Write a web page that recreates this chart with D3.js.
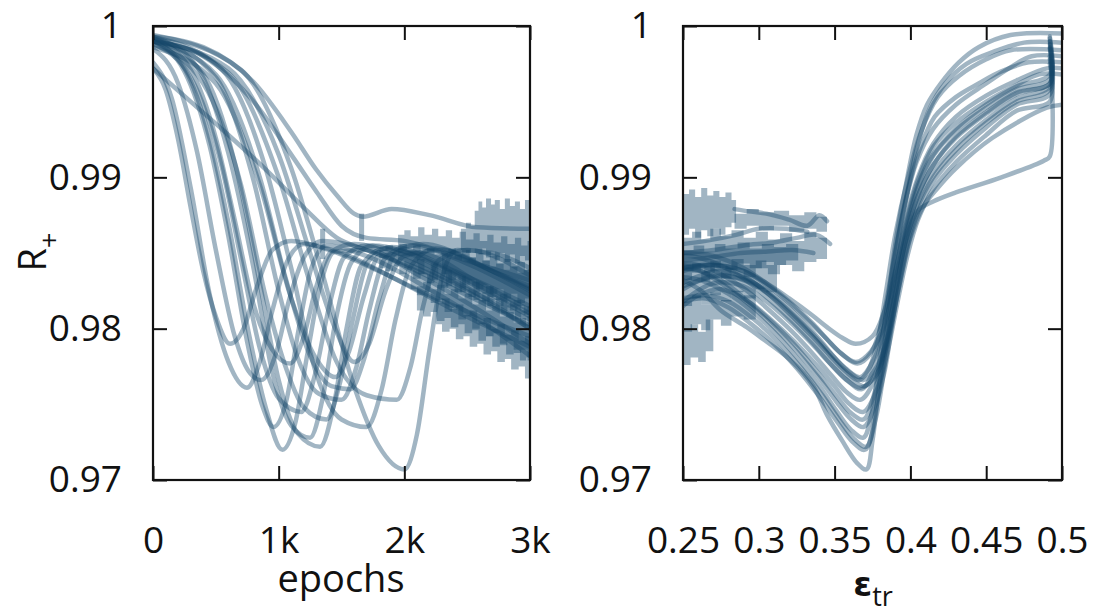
<!DOCTYPE html>
<html>
<head>
<meta charset="utf-8">
<script src="https://cdn.jsdelivr.net/npm/d3@7"></script>
<style>
body { margin: 0; background: #fff; }
text { font-family: "Open Sans", Lato, sans-serif; fill: #111; }
</style>
</head>
<body>
<svg id="chart" width="1095" height="610"></svg>
<script>
// ---- tick values / labels
var rTicks = [0.97, 0.98, 0.99, 1];
var rLabels = ['0.97', '0.98', '0.99', '1'];
var epochTicks = [0, 1000, 2000, 3000];
var epochLabels = ['0', '1k', '2k', '3k'];
var epsTicks = [0.25, 0.3, 0.35, 0.4, 0.45, 0.5];
var epsLabels = ['0.25', '0.3', '0.35', '0.4', '0.45', '0.5'];

// ---- left panel: R+ vs epochs, one run per array [epoch, R]
var epochRuns = [
  [[0,0.9972],[100,0.9958],[200,0.9925],[300,0.9880],[400,0.9838],[500,0.9808],[613,0.9790],[720,0.9800],[820,0.9826],[950,0.9852],[1100,0.9858],[1400,0.9852],[1800,0.9838],[2200,0.9822],[2600,0.9808],[3000,0.9795]],
  [[0,0.9976],[150,0.9952],[300,0.9893],[450,0.9823],[600,0.9778],[748,0.9761],[850,0.9778],[950,0.9812],[1060,0.9843],[1200,0.9856],[1500,0.9850],[1900,0.9834],[2400,0.9812],[3000,0.9788]],
  [[0,0.9985],[200,0.9962],[350,0.9917],[500,0.9852],[650,0.9795],[760,0.9772],[860,0.9766],[980,0.9784],[1080,0.9818],[1200,0.9847],[1350,0.9858],[1700,0.9852],[2100,0.9838],[2600,0.9818],[3000,0.9802]],
  [[0,0.9990],[250,0.9972],[450,0.9926],[600,0.9870],[750,0.9802],[900,0.9747],[1030,0.9720],[1130,0.9737],[1230,0.9784],[1330,0.9828],[1450,0.9851],[1700,0.9852],[2100,0.9836],[2600,0.9812],[3000,0.9790]],
  [[0,0.9992],[300,0.9971],[500,0.9926],[650,0.9872],[800,0.9816],[950,0.9786],[1090,0.9777],[1200,0.9795],[1300,0.9828],[1420,0.9851],[1600,0.9856],[2000,0.9846],[2500,0.9826],[3000,0.9806]],
  [[0,0.9988],[300,0.9966],[550,0.9906],[700,0.9846],[850,0.9787],[1000,0.9754],[1180,0.9745],[1290,0.9770],[1400,0.9814],[1520,0.9847],[1700,0.9855],[2100,0.9845],[2600,0.9822],[3000,0.9800]],
  [[0,0.9993],[350,0.9973],[600,0.9916],[800,0.9840],[950,0.9771],[1100,0.9736],[1250,0.9728],[1350,0.9754],[1450,0.9804],[1580,0.9844],[1750,0.9855],[2200,0.9845],[2600,0.9828],[3000,0.9810]],
  [[0,0.9990],[400,0.9968],[650,0.9910],[850,0.9830],[1000,0.9766],[1150,0.9731],[1330,0.9722],[1440,0.9750],[1540,0.9800],[1660,0.9842],[1850,0.9853],[2300,0.9840],[2700,0.9822],[3000,0.9808]],
  [[0,0.9988],[400,0.9962],[700,0.9895],[900,0.9820],[1050,0.9776],[1200,0.9748],[1380,0.9740],[1490,0.9765],[1590,0.9806],[1710,0.9844],[1900,0.9854],[2400,0.9838],[3000,0.9815]],
  [[0,0.9992],[500,0.9966],[800,0.9898],[1000,0.9825],[1150,0.9781],[1320,0.9757],[1500,0.9753],[1620,0.9775],[1720,0.9812],[1850,0.9847],[2050,0.9855],[2500,0.9843],[3000,0.9822]],
  [[0,0.9990],[500,0.9968],[850,0.9900],[1050,0.9835],[1250,0.9782],[1420,0.9762],[1570,0.9760],[1680,0.9780],[1800,0.9820],[1930,0.9850],[2150,0.9856],[2600,0.9842],[3000,0.9826]],
  [[0,0.9993],[550,0.9971],[900,0.9905],[1100,0.9840],[1300,0.9770],[1500,0.9740],[1700,0.9735],[1820,0.9760],[1930,0.9806],[2050,0.9841],[2250,0.9853],[2700,0.9838],[3000,0.9828]],
  [[0,0.9991],[600,0.9969],[1000,0.9900],[1250,0.9830],[1450,0.9780],[1700,0.9756],[1940,0.9753],[2050,0.9775],[2150,0.9815],[2270,0.9845],[2500,0.9852],[3000,0.9835]],
  [[0,0.9994],[700,0.9971],[1100,0.9906],[1350,0.9836],[1600,0.9762],[1800,0.9722],[2000,0.9707],[2100,0.9730],[2200,0.9786],[2300,0.9834],[2420,0.9852],[2700,0.9850],[3000,0.9840]],
  [[0,0.9990],[600,0.9972],[1000,0.9915],[1250,0.9850],[1450,0.9800],[1600,0.9778],[1720,0.9790],[1850,0.9825],[2000,0.9848],[2300,0.9852],[2700,0.9838],[3000,0.9825]],
  [[0,0.9986],[500,0.9962],[850,0.9895],[1100,0.9820],[1300,0.9780],[1450,0.9768],[1560,0.9785],[1680,0.9822],[1800,0.9848],[2100,0.9850],[2600,0.9830],[3000,0.9812]],
  [[0,0.9990],[250,0.9970],[450,0.9921],[600,0.9861],[750,0.9791],[870,0.9749],[960,0.9735],[1060,0.9752],[1160,0.9800],[1260,0.9840],[1380,0.9855],[1700,0.9848],[2200,0.9826],[2700,0.9800],[3000,0.9782]],
  [[0,0.9972],[300,0.9950],[600,0.9928],[900,0.9905],[1200,0.9880],[1464,0.9860],[1700,0.9852],[2100,0.9840],[2600,0.9820],[3000,0.9800]],
  [[0,0.9990],[400,0.9980],[800,0.9950],[1100,0.9915],[1305,0.9890],[1500,0.9868],[1700,0.9860],[2000,0.9858],[2500,0.9845],[3000,0.9832]],
  [[0,0.9993],[400,0.9986],[800,0.9963],[1100,0.9930],[1300,0.9905],[1464,0.9888],[1600,0.9876],[1670,0.9874],[1900,0.9879],[2200,0.9875],[2580,0.9867],[3000,0.9866]]
];

// noisy late-training envelopes [epoch, low, high]
var epochNoise = [
  [[2450,0.9852,0.9866],[2490,0.9850,0.9870],[2530,0.9853,0.9868],[2560,0.9850,0.9878],[2590,0.9849,0.9884],[2620,0.9853,0.9880],[2650,0.9847,0.9886],[2690,0.9851,0.9882],[2720,0.9845,0.9885],[2760,0.9850,0.9879],[2800,0.9844,0.9886],[2840,0.9849,0.9881],[2880,0.9843,0.9884],[2920,0.9848,0.9879],[2960,0.9845,0.9885],[3000,0.9845,0.9885]],
  [[1950,0.9845,0.9862],[2000,0.9840,0.9865],[2050,0.9843,0.9861],[2110,0.9836,0.9867],[2160,0.9840,0.9862],[2220,0.9832,0.9866],[2270,0.9836,0.9861],[2330,0.9828,0.9865],[2380,0.9832,0.9860],[2440,0.9824,0.9864],[2490,0.9828,0.9859],[2550,0.9819,0.9863],[2600,0.9823,0.9858],[2660,0.9815,0.9862],[2710,0.9819,0.9857],[2770,0.9810,0.9861],[2820,0.9814,0.9856],[2880,0.9806,0.9860],[2930,0.9810,0.9855],[2980,0.9802,0.9858],[3000,0.9802,0.9858]],
  [[1800,0.9840,0.9852],[1850,0.9838,0.9855],[1910,0.9841,0.9853],[1960,0.9836,0.9856],[2020,0.9839,0.9852],[2070,0.9833,0.9855],[2130,0.9836,0.9851],[2180,0.9830,0.9853],[2240,0.9833,0.9849],[2290,0.9827,0.9851],[2350,0.9830,0.9847],[2400,0.9824,0.9849],[2460,0.9827,0.9845],[2510,0.9821,0.9847],[2570,0.9824,0.9843],[2620,0.9818,0.9845],[2680,0.9821,0.9841],[2730,0.9815,0.9843],[2790,0.9818,0.9839],[2840,0.9812,0.9841],[2900,0.9815,0.9837],[2950,0.9809,0.9839],[3000,0.9809,0.9839]],
  [[2300,0.9836,0.9850],[2350,0.9832,0.9853],[2410,0.9835,0.9849],[2460,0.9829,0.9852],[2520,0.9832,0.9847],[2570,0.9826,0.9850],[2630,0.9829,0.9845],[2680,0.9823,0.9848],[2740,0.9826,0.9843],[2790,0.9820,0.9846],[2850,0.9823,0.9841],[2900,0.9817,0.9844],[2960,0.9820,0.9839],[3000,0.9820,0.9839]],
  [[2050,0.9826,0.9843],[2100,0.9822,0.9846],[2160,0.9824,0.9840],[2210,0.9817,0.9843],[2270,0.9819,0.9836],[2320,0.9811,0.9839],[2380,0.9814,0.9832],[2430,0.9806,0.9835],[2490,0.9808,0.9828],[2540,0.9800,0.9831],[2600,0.9803,0.9824],[2650,0.9795,0.9828],[2710,0.9797,0.9820],[2760,0.9789,0.9823],[2820,0.9792,0.9816],[2870,0.9784,0.9819],[2930,0.9786,0.9812],[2980,0.9779,0.9815],[3000,0.9779,0.9815]],
  [[2100,0.9812,0.9828],[2150,0.9808,0.9831],[2210,0.9811,0.9826],[2260,0.9805,0.9829],[2320,0.9807,0.9823],[2370,0.9801,0.9826],[2430,0.9803,0.9820],[2480,0.9797,0.9823],[2540,0.9799,0.9816],[2590,0.9792,0.9819],[2650,0.9795,0.9812],[2700,0.9788,0.9815],[2760,0.9790,0.9808],[2810,0.9783,0.9811],[2870,0.9786,0.9804],[2920,0.9779,0.9807],[2970,0.9781,0.9801],[3000,0.9781,0.9801]],
  [[2250,0.9803,0.9817],[2300,0.9798,0.9820],[2360,0.9800,0.9813],[2410,0.9793,0.9816],[2470,0.9795,0.9809],[2520,0.9788,0.9812],[2580,0.9790,0.9804],[2630,0.9783,0.9807],[2690,0.9785,0.9800],[2740,0.9778,0.9803],[2800,0.9780,0.9796],[2850,0.9773,0.9799],[2910,0.9775,0.9792],[2960,0.9767,0.9795],[3000,0.9767,0.9795]],
  [[1640,0.9858,0.9876],[1680,0.9858,0.9876]],
  [[1330,0.9846,0.9866],[1370,0.9846,0.9866]]
];

// ---- right panel: R+ vs eps_tr, one run per array [eps, R] in training order
var epsRuns = [
  [[0.492,0.9990],[0.492,0.9968],[0.470,0.9960],[0.450,0.9948],[0.430,0.9932],[0.415,0.9915],[0.405,0.9895],[0.397,0.9868],[0.390,0.9838],[0.383,0.9812],[0.375,0.9795],[0.364,0.9790],[0.355,0.9794],[0.345,0.9801],[0.335,0.9809],[0.320,0.9820],[0.305,0.9830],[0.290,0.9838],[0.270,0.9842],[0.250,0.9840]],
  [[0.492,0.9986],[0.492,0.9955],[0.470,0.9948],[0.450,0.9933],[0.430,0.9915],[0.415,0.9897],[0.405,0.9877],[0.398,0.9854],[0.392,0.9825],[0.386,0.9795],[0.378,0.9770],[0.367,0.9761],[0.357,0.9767],[0.347,0.9777],[0.335,0.9790],[0.320,0.9805],[0.305,0.9818],[0.290,0.9828],[0.270,0.9830],[0.250,0.9818]],
  [[0.500,0.9984],[0.466,0.9984],[0.450,0.9978],[0.432,0.9967],[0.418,0.9953],[0.407,0.9930],[0.398,0.9898],[0.390,0.9862],[0.384,0.9825],[0.378,0.9790],[0.372,0.9772],[0.366,0.9766],[0.357,0.9772],[0.347,0.9782],[0.335,0.9795],[0.320,0.9810],[0.305,0.9824],[0.290,0.9835],[0.270,0.9842],[0.250,0.9840]],
  [[0.492,0.9985],[0.492,0.9962],[0.470,0.9956],[0.450,0.9943],[0.430,0.9927],[0.415,0.9908],[0.404,0.9885],[0.396,0.9855],[0.389,0.9815],[0.383,0.9775],[0.377,0.9740],[0.370,0.9720],[0.362,0.9725],[0.352,0.9738],[0.340,0.9755],[0.325,0.9774],[0.310,0.9790],[0.295,0.9803],[0.280,0.9814],[0.265,0.9820],[0.250,0.9818]],
  [[0.500,0.9980],[0.480,0.9980],[0.465,0.9972],[0.450,0.9962],[0.430,0.9948],[0.415,0.9932],[0.404,0.9910],[0.396,0.9880],[0.389,0.9845],[0.382,0.9808],[0.374,0.9784],[0.365,0.9777],[0.355,0.9783],[0.345,0.9793],[0.335,0.9804],[0.320,0.9818],[0.305,0.9830],[0.290,0.9840],[0.270,0.9848],[0.250,0.9850]],
  [[0.492,0.9975],[0.492,0.9950],[0.470,0.9944],[0.450,0.9928],[0.430,0.9910],[0.415,0.9892],[0.405,0.9872],[0.398,0.9848],[0.391,0.9815],[0.385,0.9785],[0.378,0.9760],[0.369,0.9745],[0.360,0.9750],[0.350,0.9762],[0.338,0.9776],[0.323,0.9792],[0.308,0.9806],[0.293,0.9818],[0.275,0.9826],[0.260,0.9822],[0.250,0.9815]],
  [[0.500,0.9995],[0.466,0.9994],[0.445,0.9986],[0.432,0.9976],[0.420,0.9962],[0.411,0.9948],[0.404,0.9928],[0.398,0.9900],[0.391,0.9862],[0.385,0.9818],[0.379,0.9775],[0.374,0.9742],[0.369,0.9728],[0.361,0.9733],[0.351,0.9746],[0.340,0.9762],[0.325,0.9781],[0.310,0.9798],[0.295,0.9812],[0.280,0.9823],[0.262,0.9832],[0.250,0.9834]],
  [[0.492,0.9992],[0.492,0.9965],[0.470,0.9958],[0.450,0.9946],[0.430,0.9931],[0.415,0.9914],[0.404,0.9890],[0.396,0.9860],[0.389,0.9822],[0.383,0.9782],[0.377,0.9745],[0.371,0.9722],[0.363,0.9727],[0.353,0.9740],[0.342,0.9756],[0.328,0.9774],[0.312,0.9792],[0.297,0.9806],[0.280,0.9818],[0.265,0.9822],[0.250,0.9820]],
  [[0.500,0.9972],[0.490,0.9972],[0.470,0.9964],[0.450,0.9954],[0.430,0.9940],[0.415,0.9922],[0.405,0.9900],[0.397,0.9872],[0.390,0.9835],[0.384,0.9795],[0.377,0.9760],[0.369,0.9740],[0.360,0.9745],[0.350,0.9757],[0.338,0.9772],[0.323,0.9790],[0.308,0.9805],[0.293,0.9818],[0.278,0.9830],[0.262,0.9838],[0.250,0.9840]],
  [[0.492,0.9980],[0.492,0.9960],[0.470,0.9952],[0.450,0.9938],[0.430,0.9921],[0.415,0.9903],[0.405,0.9883],[0.397,0.9857],[0.390,0.9823],[0.384,0.9790],[0.376,0.9765],[0.367,0.9753],[0.358,0.9758],[0.348,0.9769],[0.336,0.9783],[0.321,0.9799],[0.306,0.9813],[0.291,0.9826],[0.275,0.9836],[0.260,0.9842],[0.250,0.9843]],
  [[0.500,0.9976],[0.478,0.9976],[0.460,0.9970],[0.445,0.9962],[0.430,0.9953],[0.416,0.9940],[0.406,0.9918],[0.397,0.9886],[0.390,0.9850],[0.384,0.9810],[0.377,0.9777],[0.368,0.9760],[0.358,0.9766],[0.348,0.9776],[0.336,0.9790],[0.321,0.9806],[0.306,0.9820],[0.290,0.9833],[0.272,0.9843],[0.255,0.9848],[0.250,0.9848]],
  [[0.492,0.9988],[0.492,0.9958],[0.470,0.9950],[0.450,0.9936],[0.430,0.9918],[0.415,0.9900],[0.404,0.9878],[0.396,0.9848],[0.389,0.9810],[0.383,0.9772],[0.376,0.9747],[0.369,0.9735],[0.361,0.9740],[0.351,0.9752],[0.340,0.9767],[0.325,0.9785],[0.310,0.9801],[0.295,0.9815],[0.278,0.9828],[0.262,0.9838],[0.250,0.9842]],
  [[0.500,0.9989],[0.475,0.9989],[0.455,0.9983],[0.437,0.9975],[0.423,0.9962],[0.413,0.9946],[0.405,0.9922],[0.397,0.9885],[0.390,0.9845],[0.384,0.9800],[0.379,0.9760],[0.375,0.9726],[0.371,0.9707],[0.365,0.9711],[0.355,0.9726],[0.345,0.9743],[0.336,0.9762],[0.320,0.9780],[0.303,0.9793],[0.292,0.9801],[0.275,0.9812],[0.262,0.9825],[0.250,0.9832]],
  [[0.492,0.9978],[0.492,0.9962],[0.470,0.9955],[0.450,0.9942],[0.430,0.9926],[0.415,0.9908],[0.405,0.9888],[0.397,0.9862],[0.390,0.9832],[0.383,0.9803],[0.374,0.9785],[0.364,0.9778],[0.354,0.9784],[0.344,0.9794],[0.334,0.9804],[0.320,0.9817],[0.305,0.9829],[0.290,0.9838],[0.270,0.9842],[0.250,0.9838]],
  [[0.500,0.9968],[0.485,0.9968],[0.470,0.9961],[0.450,0.9950],[0.430,0.9936],[0.415,0.9920],[0.405,0.9898],[0.397,0.9870],[0.390,0.9837],[0.384,0.9805],[0.376,0.9780],[0.367,0.9768],[0.357,0.9774],[0.347,0.9784],[0.337,0.9795],[0.322,0.9810],[0.307,0.9823],[0.292,0.9833],[0.272,0.9838],[0.250,0.9830]],
  [[0.492,0.9993],[0.492,0.9914],[0.488,0.9911],[0.460,0.9900],[0.430,0.9890],[0.415,0.9884],[0.405,0.9878],[0.398,0.9862],[0.392,0.9835],[0.386,0.9802],[0.379,0.9775],[0.370,0.9762],[0.361,0.9767],[0.351,0.9777],[0.340,0.9790],[0.325,0.9806],[0.310,0.9820],[0.295,0.9830],[0.275,0.9835],[0.250,0.9828]],
  [[0.500,0.9948],[0.490,0.9946],[0.454,0.9926],[0.430,0.9906],[0.418,0.9893],[0.408,0.9880],[0.400,0.9860],[0.393,0.9830],[0.386,0.9798],[0.378,0.9775],[0.369,0.9766],[0.360,0.9771],[0.350,0.9781],[0.340,0.9793],[0.326,0.9808],[0.310,0.9822],[0.292,0.9832],[0.270,0.9835],[0.250,0.9826]],
  [[0.345,0.9871],[0.340,0.9875],[0.332,0.9868],[0.320,0.9872],[0.305,0.9876],[0.290,0.9878],[0.284,0.9879]],
  [[0.250,0.9850],[0.270,0.9852],[0.290,0.9855],[0.310,0.9857],[0.325,0.9860],[0.338,0.9862],[0.347,0.9856]],
  [[0.250,0.9856],[0.265,0.9858],[0.285,0.9862],[0.300,0.9866],[0.318,0.9866],[0.332,0.9864]],
  [[0.250,0.9845],[0.268,0.9847],[0.288,0.9850],[0.306,0.9851],[0.322,0.9852],[0.336,0.9850]]
];

// noisy late-training envelopes [eps, low, high]
var epsNoise = [
  [[0.250,0.9862,0.9889],[0.254,0.9866,0.9892],[0.258,0.9860,0.9887],[0.262,0.9865,0.9893],[0.266,0.9861,0.9888],[0.270,0.9866,0.9891],[0.274,0.9862,0.9887],[0.278,0.9867,0.9890],[0.282,0.9870,0.9885],[0.285,0.9870,0.9885]],
  [[0.284,0.9866,0.9876],[0.292,0.9868,0.9879],[0.300,0.9865,0.9877],[0.310,0.9868,0.9878],[0.320,0.9864,0.9875],[0.330,0.9866,0.9877],[0.338,0.9864,0.9874],[0.345,0.9864,0.9874]],
  [[0.250,0.9832,0.9860],[0.256,0.9837,0.9864],[0.262,0.9831,0.9859],[0.268,0.9838,0.9866],[0.275,0.9833,0.9861],[0.282,0.9839,0.9865],[0.290,0.9834,0.9860],[0.298,0.9840,0.9864],[0.306,0.9836,0.9859],[0.314,0.9842,0.9863],[0.322,0.9838,0.9858],[0.330,0.9844,0.9864],[0.338,0.9846,0.9860],[0.345,0.9846,0.9860]],
  [[0.250,0.9838,0.9852],[0.257,0.9841,0.9855],[0.264,0.9837,0.9851],[0.271,0.9842,0.9856],[0.278,0.9839,0.9853],[0.286,0.9843,0.9857],[0.294,0.9840,0.9853],[0.302,0.9844,0.9856],[0.310,0.9842,0.9854],[0.318,0.9845,0.9856],[0.326,0.9845,0.9856]],
  [[0.250,0.9815,0.9840],[0.256,0.9820,0.9843],[0.262,0.9816,0.9838],[0.268,0.9822,0.9845],[0.275,0.9818,0.9840],[0.282,0.9824,0.9846],[0.290,0.9820,0.9842],[0.298,0.9826,0.9845],[0.305,0.9824,0.9842],[0.312,0.9824,0.9842]],
  [[0.250,0.9798,0.9818],[0.256,0.9803,0.9822],[0.262,0.9799,0.9816],[0.268,0.9806,0.9824],[0.275,0.9802,0.9819],[0.282,0.9808,0.9825],[0.290,0.9806,0.9822],[0.298,0.9806,0.9822]],
  [[0.250,0.9776,0.9800],[0.255,0.9781,0.9803],[0.260,0.9778,0.9798],[0.265,0.9785,0.9806],[0.270,0.9790,0.9806]]
];

var lineColor = '#144669';
var svg = d3.select('#chart');
var plotTop = 26, plotBottom = 480;

function drawPanel(name, x0, x1, xDomain, xTicks, xLabels, runs, noise, curve) {
  var x = d3.scaleLinear().domain(xDomain).range([x0, x1]);
  var y = d3.scaleLinear().domain([0.97, 1]).range([plotBottom, plotTop]);

  svg.append('clipPath').attr('id', 'clip-' + name)
    .append('rect').attr('x', x0).attr('y', plotTop).attr('width', x1 - x0).attr('height', plotBottom - plotTop);

  var g = svg.append('g').attr('clip-path', 'url(#clip-' + name + ')');

  var band = d3.area()
    .x(function (d) { return x(d[0]); })
    .y0(function (d) { return y(d[1]); })
    .y1(function (d) { return y(d[2]); })
    .curve(d3.curveStepAfter);

  g.selectAll('path.noise').data(noise).join('path')
    .attr('class', 'noise')
    .attr('d', band)
    .attr('fill', lineColor)
    .attr('fill-opacity', 0.4);

  var line = d3.line()
    .x(function (d) { return x(d[0]); })
    .y(function (d) { return y(d[1]); })
    .curve(curve);

  g.selectAll('path.run').data(runs).join('path')
    .attr('class', 'run')
    .attr('d', line)
    .attr('fill', 'none')
    .attr('stroke', lineColor)
    .attr('stroke-opacity', 0.4)
    .attr('stroke-width', 4.5)
    .attr('stroke-linecap', 'round')
    .attr('stroke-linejoin', 'round');

  // axes with inward ticks on all four sides
  var ax = svg.append('g').attr('class', 'axes');
  var bottomAxis = d3.axisBottom(x).tickValues(xTicks)
    .tickFormat(function (d, i) { return xLabels[i]; })
    .tickSize(-14);
  var gb = ax.append('g').attr('transform', 'translate(0,' + plotBottom + ')').call(bottomAxis);
  gb.selectAll('text').attr('dy', null).attr('y', 73);

  ax.append('g').attr('transform', 'translate(0,' + plotTop + ')')
    .call(d3.axisTop(x).tickValues(xTicks).tickSize(-14).tickFormat(''));

  var leftAxis = d3.axisLeft(y).tickValues(rTicks)
    .tickFormat(function (d, i) { return rLabels[i]; })
    .tickSize(-14).tickPadding(31);
  ax.append('g').attr('transform', 'translate(' + x0 + ',0)').call(leftAxis);

  ax.append('g').attr('transform', 'translate(' + x1 + ',0)')
    .call(d3.axisRight(y).tickValues(rTicks).tickSize(-14).tickFormat(''));

  ax.selectAll('.domain').remove();
  ax.selectAll('.tick line').attr('stroke', '#111').attr('stroke-width', 2);
  ax.selectAll('.tick text').attr('font-size', 37)
    .style('font-family', '"Open Sans", Lato, sans-serif').attr('fill', '#111');

  ax.append('rect')
    .attr('x', x0).attr('y', plotTop).attr('width', x1 - x0).attr('height', plotBottom - plotTop)
    .attr('fill', 'none').attr('stroke', '#111').attr('stroke-width', 2.2);
}

drawPanel('left', 153, 530, [0, 3000], epochTicks, epochLabels, epochRuns, epochNoise, d3.curveMonotoneX);
drawPanel('right', 683, 1062, [0.25, 0.5], epsTicks, epsLabels, epsRuns, epsNoise, d3.curveCatmullRom.alpha(0.5));

// axis titles
svg.append('text')
  .attr('x', 341).attr('y', 592)
  .attr('text-anchor', 'middle')
  .attr('font-size', 38)
  .text('epochs');

var rLab = svg.append('text')
  .attr('transform', 'translate(46,252) rotate(-90)')
  .attr('text-anchor', 'middle')
  .attr('font-size', 38);
rLab.append('tspan').text('R');
rLab.append('tspan').attr('font-size', 27).attr('dy', 13).text('+');

var eLab = svg.append('text')
  .attr('x', 873).attr('y', 596)
  .attr('text-anchor', 'middle');
eLab.append('tspan')
  .style('font-family', '"DejaVu Sans", sans-serif')
  .attr('font-weight', 'bold').attr('font-size', 34).text('ε');
eLab.append('tspan').attr('font-size', 27).attr('dy', 10).text('tr');
</script>
</body>
</html>
